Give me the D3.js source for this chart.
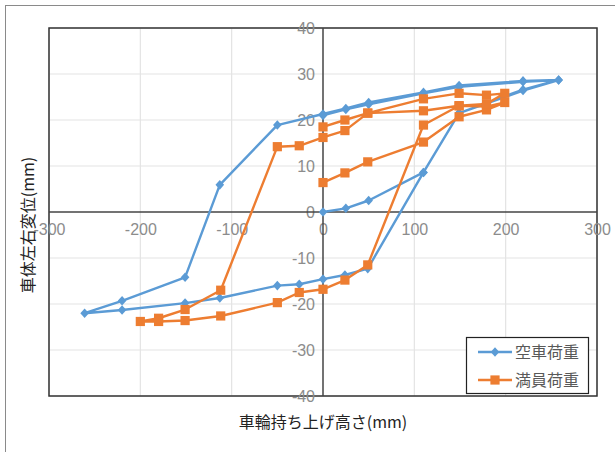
<!DOCTYPE html>
<html>
<head>
<meta charset="utf-8">
<style>
  body { margin: 0; background: #fff; }
  svg { display: block; font-family: "Liberation Sans", "Noto Sans CJK JP", sans-serif; }
  .jp { font-family: "Noto Sans CJK JP", sans-serif; font-size: 16px; fill: #222; }
</style>
<script src="https://cdn.jsdelivr.net/npm/d3@7"></script>
</head>
<body>
<svg id="chart" width="615" height="452"></svg>
<script>
// tick labels
var xTicks = [-300, -200, -100, 0, 100, 200, 300];
var yTicks = [-40, -30, -20, -10, 0, 10, 20, 30, 40];

// 空車荷重 (wheel lift height, body displacement)
var emptyX = [0, 25, 50, 110, 149, 219, 258, 219, 149, 110, 50, 25, 0, -50, -113, -151, -220, -261, -220, -151, -113, -50, -26, 0, 24, 49, 110, 149, 219, 258, 219, 149, 110, 50, 25, 0];
var emptyY = [0, 0.8, 2.5, 8.6, 21.5, 26.4, 28.7, 28.5, 27.5, 26.0, 23.8, 22.5, 21.3, 18.9, 5.9, -14.2, -19.3, -22.0, -21.3, -19.8, -18.7, -16.0, -15.7, -14.6, -13.7, -12.3, 8.6, 21.5, 26.6, 28.7, 28.3, 27.2, 25.8, 23.4, 22.3, 21.0];

// 満員荷重
var fullX = [0, 24, 49, 110, 149, 179, 199, 179, 149, 110, 49, 24, 0, -26, -50, -112, -151, -180, -200, -180, -151, -112, -50, -26, 0, 24, 49, 110, 149, 179, 199, 179, 149, 110, 49, 24, 0];
var fullY = [6.4, 8.5, 10.9, 15.2, 20.7, 22.2, 23.8, 22.9, 23.1, 22.0, 21.5, 17.7, 16.2, 14.4, 14.2, -17.0, -21.2, -23.1, -23.8, -23.8, -23.6, -22.6, -19.7, -17.5, -16.8, -14.8, -11.5, 18.9, 23.1, 23.5, 25.8, 25.4, 25.8, 24.6, 21.5, 20.0, 18.5];

var seriesNames = ["空車荷重", "満員荷重"];
var colors = ["#5b9bd5", "#ed7d31"];

var svg = d3.select("#chart");
var plotLeft = 49, plotRight = 597, plotTop = 28, plotBottom = 396;

var x = d3.scaleLinear().domain([-300, 300]).range([plotLeft, plotRight]);
var y = d3.scaleLinear().domain([-40, 40]).range([plotBottom, plotTop]);

// outer chart frame
svg.append("rect").attr("x", 5.5).attr("y", 5.5).attr("width", 640).attr("height", 480)
  .attr("fill", "none").attr("stroke", "#8a8a8a");

// grid
svg.append("g").selectAll("line").data(xTicks.filter(function(d) { return d !== 0; }))
  .enter().append("line")
  .attr("x1", function(d) { return x(d); }).attr("x2", function(d) { return x(d); })
  .attr("y1", plotTop).attr("y2", plotBottom)
  .attr("stroke", "#e3e3e3").attr("stroke-width", 1.2);
svg.append("g").selectAll("line").data(yTicks.filter(function(d) { return d !== 0; }))
  .enter().append("line")
  .attr("x1", plotLeft).attr("x2", plotRight)
  .attr("y1", function(d) { return y(d); }).attr("y2", function(d) { return y(d); })
  .attr("stroke", "#e3e3e3").attr("stroke-width", 1.2);

// plot frame
svg.append("rect").attr("x", plotLeft).attr("y", plotTop).attr("width", plotRight - plotLeft).attr("height", plotBottom - plotTop)
  .attr("fill", "none").attr("stroke", "#333").attr("stroke-width", 1.5);

var fmt = function(d) { return String(d); };

// axes crossing at zero
var xAxis = d3.axisBottom(x).tickValues(xTicks).tickFormat(fmt).tickSize(0).tickPadding(12);
var gx = svg.append("g").attr("transform", "translate(0," + y(0) + ")").call(xAxis);
gx.select(".domain").remove();
gx.selectAll(".tick text").attr("fill", "#8c8c8c").style("font-size", "16px")
  .style("font-family", "'Liberation Sans', sans-serif");

var yAxis = d3.axisLeft(y).tickValues(yTicks).tickFormat(fmt).tickSize(0).tickPadding(8);
var gy = svg.append("g").attr("transform", "translate(" + x(0) + ",0)").call(yAxis);
gy.select(".domain").remove();
gy.selectAll(".tick text").attr("fill", "#8c8c8c").style("font-size", "16px")
  .style("font-family", "'Liberation Sans', sans-serif");

svg.append("line").attr("x1", plotLeft).attr("x2", plotRight).attr("y1", y(0)).attr("y2", y(0))
  .attr("stroke", "#444").attr("stroke-width", 1.5);
svg.append("line").attr("x1", x(0)).attr("x2", x(0)).attr("y1", plotTop).attr("y2", plotBottom)
  .attr("stroke", "#444").attr("stroke-width", 1.5);

// series
var line = d3.line().x(function(d) { return x(d[0]); }).y(function(d) { return y(d[1]); });
var emptyPts = d3.zip(emptyX, emptyY);
var fullPts = d3.zip(fullX, fullY);

function diamond(g, color) {
  g.append("path").attr("d", "M0,-4.8L4.3,0L0,4.8L-4.3,0Z").attr("fill", color);
}
function square(g, color) {
  g.append("rect").attr("x", -4.6).attr("y", -4.6).attr("width", 9.2).attr("height", 9.2).attr("fill", color);
}

svg.append("path").datum(emptyPts).attr("d", line).attr("fill", "none")
  .attr("stroke", colors[0]).attr("stroke-width", 2.4).attr("stroke-linejoin", "round");
svg.append("g").selectAll("g").data(emptyPts).enter().append("g")
  .attr("transform", function(d) { return "translate(" + x(d[0]) + "," + y(d[1]) + ")"; })
  .each(function() { diamond(d3.select(this), colors[0]); });

svg.append("path").datum(fullPts).attr("d", line).attr("fill", "none")
  .attr("stroke", colors[1]).attr("stroke-width", 2.4).attr("stroke-linejoin", "round");
svg.append("g").selectAll("g").data(fullPts).enter().append("g")
  .attr("transform", function(d) { return "translate(" + x(d[0]) + "," + y(d[1]) + ")"; })
  .each(function() { square(d3.select(this), colors[1]); });

// axis titles
svg.append("text").attr("class", "jp").attr("x", 323).attr("y", 428)
  .attr("text-anchor", "middle").text("車輪持ち上げ高さ(mm)");
svg.append("text").attr("class", "jp")
  .attr("transform", "translate(34,225) rotate(-90)")
  .attr("text-anchor", "middle").text("車体左右変位(mm)");

// legend
var lg = svg.append("g");
lg.append("rect").attr("x", 466.5).attr("y", 337.5).attr("width", 122).attr("height", 56)
  .attr("fill", "#fff").attr("stroke", "#222").attr("stroke-width", 1.2);
seriesNames.forEach(function(name, i) {
  var cy = 352 + i * 28;
  lg.append("line").attr("x1", 478).attr("x2", 512).attr("y1", cy).attr("y2", cy)
    .attr("stroke", colors[i]).attr("stroke-width", 2.4);
  var m = lg.append("g").attr("transform", "translate(495," + cy + ")");
  if (i === 0) diamond(m, colors[i]); else square(m, colors[i]);
  lg.append("text").attr("class", "jp").attr("x", 515).attr("y", cy + 6)
    .style("fill", "#595959").text(name);
});
</script>
</body>
</html>
